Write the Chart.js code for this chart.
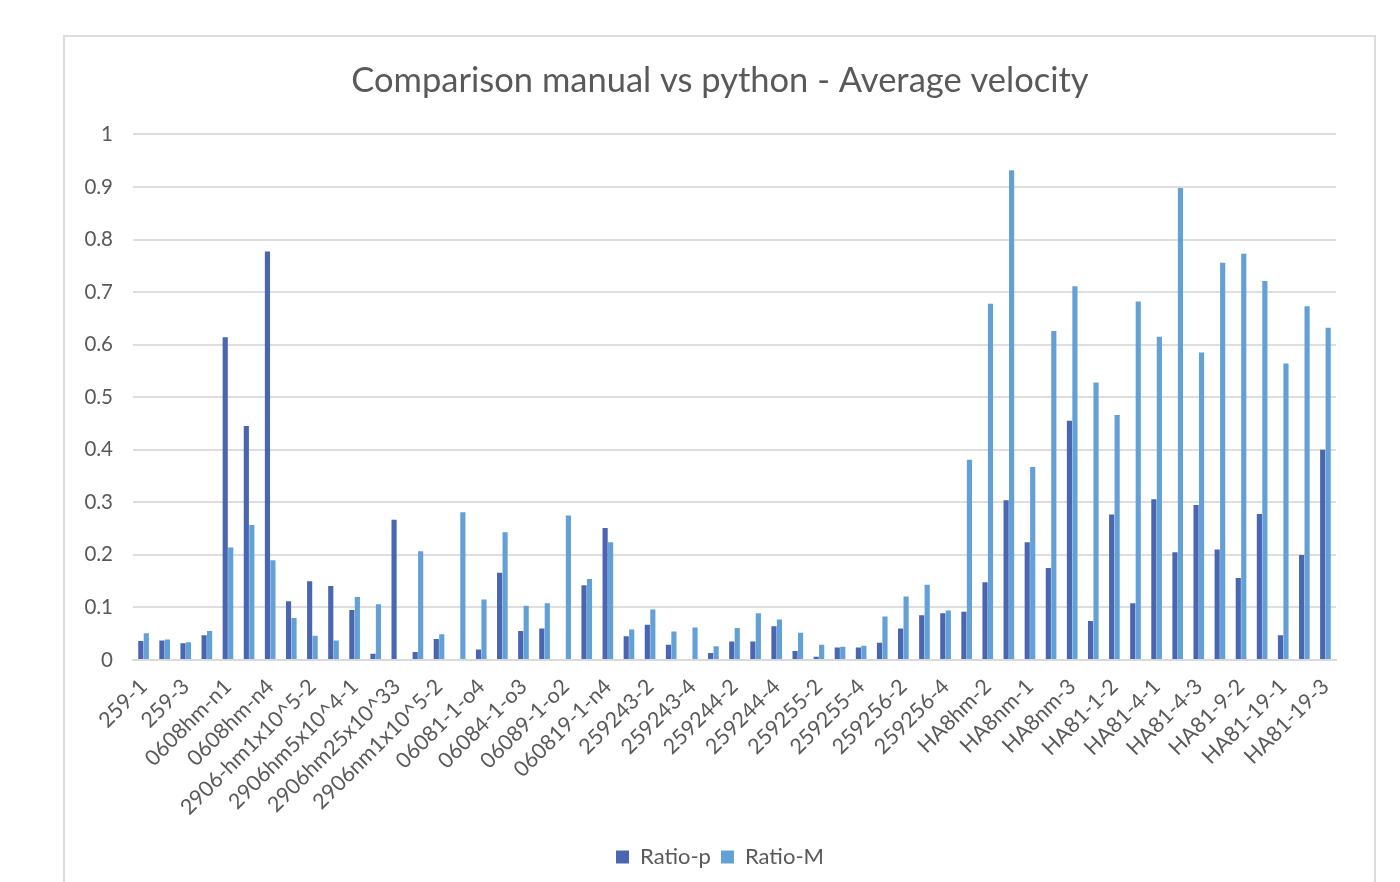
<!DOCTYPE html>
<html>
<head>
<meta charset="utf-8">
<title>Comparison manual vs python - Average velocity</title>
<script src="https://cdn.jsdelivr.net/npm/chart.js@4.4.1/dist/chart.umd.min.js"></script>
<style>
  html, body { margin: 0; padding: 0; background: #ffffff; }
  #wrap { position: relative; width: 1400px; height: 882px; overflow: hidden; }
  #frame {
    position: absolute; left: 63px; top: 35px; width: 1309px; height: 900px;
    border: 2px solid #dcdcdc; box-sizing: content-box; pointer-events: none;
  }
  #c { position: absolute; left: 0; top: 0; }
</style>
</head>
<body>
<div id="wrap">
  <div id="frame"></div>
  <canvas id="c" width="1400" height="882"></canvas>
</div>
<script>
// Sample labels printed under the axis (every second sample is labelled)
const tickLabels = [
  '259-1', '259-3', '0608hm-n1', '0608hm-n4', '2906-hm1x10^5-2', '2906hm5x10^4-1',
  '2906hm25x10^33', '2906nm1x10^5-2', '06081-1-o4', '06084-1-o3', '06089-1-o2',
  '060819-1-n4', '259243-2', '259243-4', '259244-2', '259244-4', '259255-2',
  '259255-4', '259256-2', '259256-4', 'HA8hm-2', 'HA8nm-1', 'HA8nm-3', 'HA81-1-2',
  'HA81-4-1', 'HA81-4-3', 'HA81-9-2', 'HA81-19-1', 'HA81-19-3'
];

// Ratio computed by the python script
const ratioP = [
  0.036, 0.037, 0.032, 0.047, 0.614, 0.445, 0.777, 0.112, 0.150, 0.141,
  0.095, 0.012, 0.267, 0.015, 0.040, 0,     0.020, 0.166, 0.055, 0.060,
  0,     0.142, 0.251, 0.045, 0.067, 0.029, 0,     0.0135, 0.035, 0.035,
  0.064, 0.017, 0.006, 0.024, 0.024, 0.033, 0.060, 0.085, 0.089, 0.092,
  0.148, 0.304, 0.224, 0.175, 0.455, 0.074, 0.277, 0.108, 0.306, 0.205,
  0.295, 0.210, 0.156, 0.278, 0.047, 0.200, 0.400
];

// Ratio measured manually
const ratioM = [
  0.051, 0.039, 0.034, 0.055, 0.214, 0.257, 0.190, 0.080, 0.046, 0.037,
  0.120, 0.106, 0,     0.207, 0.049, 0.281, 0.115, 0.243, 0.103, 0.108,
  0.275, 0.154, 0.224, 0.058, 0.096, 0.054, 0.062, 0.026, 0.061, 0.089,
  0.077, 0.052, 0.029, 0.025, 0.027, 0.083, 0.121, 0.143, 0.094, 0.381,
  0.678, 0.932, 0.367, 0.626, 0.711, 0.528, 0.466, 0.682, 0.615, 0.898,
  0.585, 0.756, 0.773, 0.721, 0.564, 0.673, 0.632
];

// One category per sample; only the even ones carry a printed label
const categories = ratioP.map((_, i) => (i % 2 === 0 ? tickLabels[i / 2] : ''));

const FONT = "Lato, 'Open Sans', 'DejaVu Sans', sans-serif";
const TEXT = '#595959';
const Y_FONT = { family: FONT, size: 20.5 };

// width of the widest value label, so mirrored labels can be placed left of the axis
function widestYLabel() {
  const ctx = document.createElement('canvas').getContext('2d');
  ctx.font = `${Y_FONT.size}px ${Y_FONT.family}`;
  return Math.max(...['0', '0.1', '0.5', '0.9', '1'].map(t => ctx.measureText(t).width));
}

new Chart(document.getElementById('c'), {
  type: 'bar',
  data: {
    labels: categories,
    datasets: [
      { label: 'Ratio-p', data: ratioP, backgroundColor: '#4a66b0', borderWidth: 0 },
      { label: 'Ratio-M', data: ratioM, backgroundColor: '#62a0d6', borderWidth: 0 }
    ]
  },
  options: {
    responsive: false,
    animation: false,
    devicePixelRatio: 1,
    // wide left padding keeps title and legend centred inside the frame
    layout: { padding: { left: 104, right: 64, top: 21, bottom: 4 } },
    datasets: { bar: { categoryPercentage: 0.52, barPercentage: 0.94 } },
    plugins: {
      title: {
        display: true,
        text: 'Comparison manual vs python - Average velocity',
        color: TEXT,
        font: { family: FONT, size: 34.5, weight: 'normal' },
        padding: { top: 39, bottom: 33 }
      },
      legend: {
        position: 'bottom',
        labels: {
          color: TEXT,
          font: { family: FONT, size: 22 },
          boxWidth: 13, boxHeight: 13, padding: 10
        }
      },
      tooltip: { enabled: false }
    },
    scales: {
      x: {
        grid: { display: false },
        border: { display: true, color: '#d9d9d9', width: 2 },
        ticks: {
          autoSkip: false,
          minRotation: 45, maxRotation: 45,
          color: TEXT, padding: 6,
          font: { family: FONT, size: 21.5 }
        },
        afterFit: (s) => { s.height = 176; }
      },
      y: {
        min: 0, max: 1,
        grid: { color: '#dedede', lineWidth: 2, drawTicks: false },
        border: { display: false },
        ticks: {
          stepSize: 0.1, color: TEXT, font: Y_FONT,
          // mirrored + far-aligned: right edge of the text sits 20px left of the plot
          mirror: true, crossAlign: 'far',
          padding: -20 - widestYLabel(),
          callback: (v) => String(Math.round(v * 10) / 10)
        },
        afterFit: (s) => { s.width = 29; }
      }
    }
  }
});
</script>
</body>
</html>
